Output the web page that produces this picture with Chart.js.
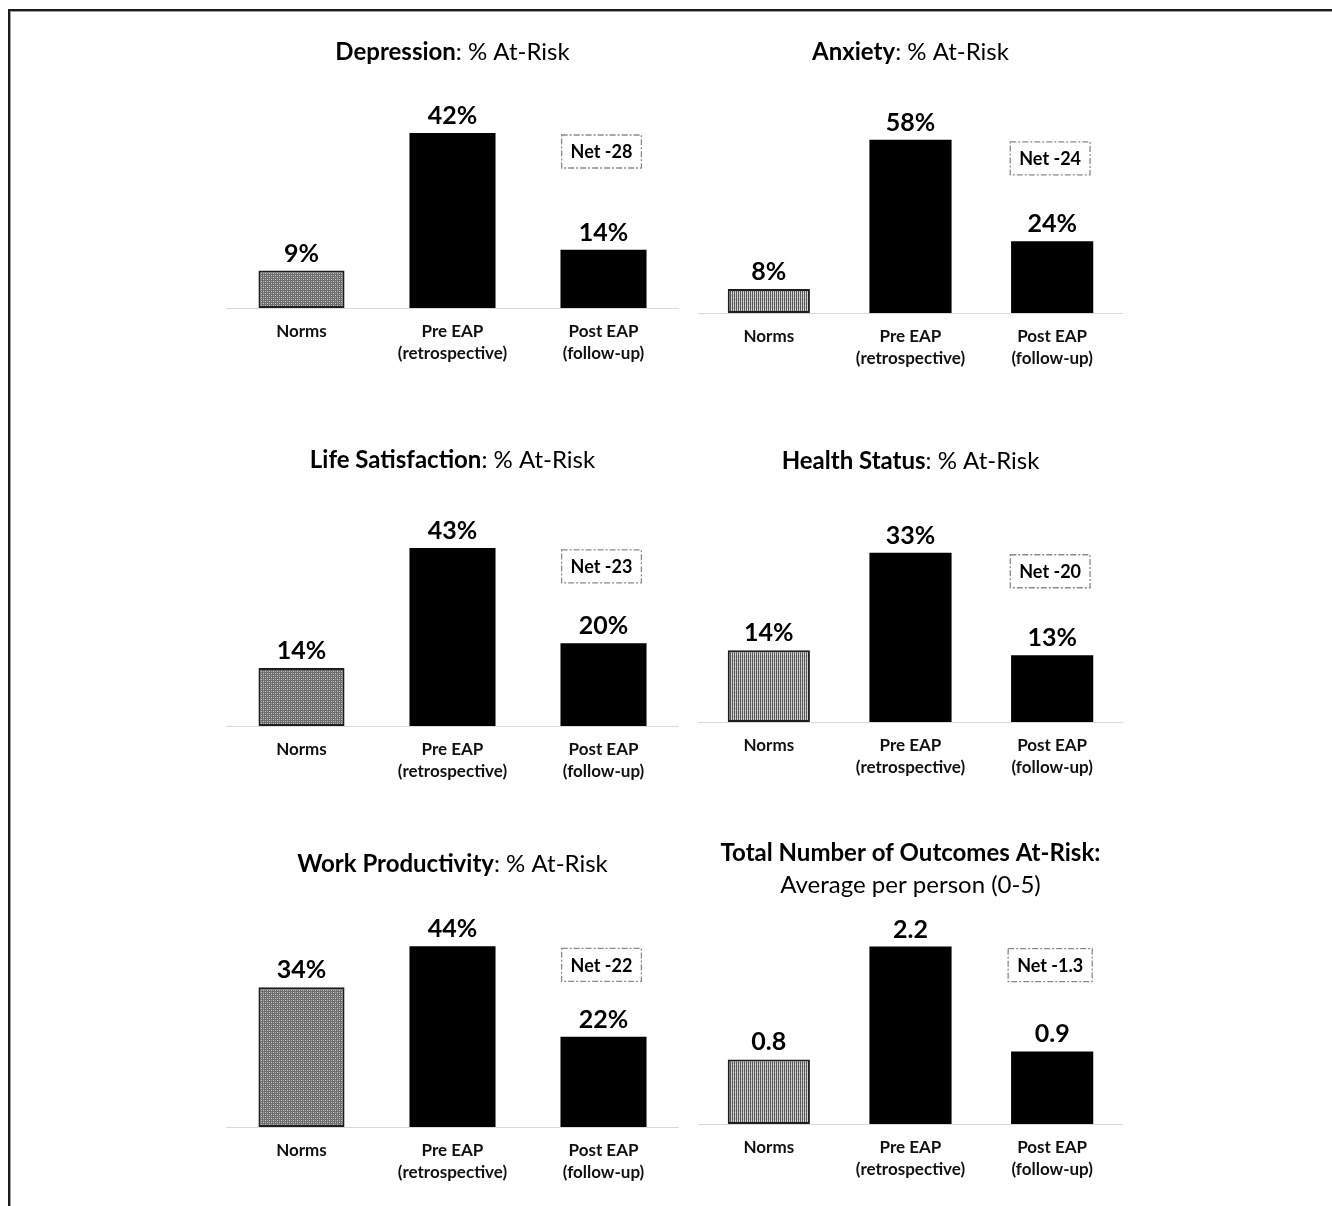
<!DOCTYPE html>
<html><head><meta charset="utf-8">
<script src="https://cdn.jsdelivr.net/npm/chart.js@4.4.1/dist/chart.umd.min.js"></script>
<style>
html,body{margin:0;padding:0;background:#fff;}
body{width:1332px;height:1206px;position:relative;overflow:hidden;}
#frame{position:absolute;left:8px;top:9px;width:1400px;height:1300px;border-left:2px solid #1c1c1c;border-top:2px solid #1c1c1c;}
#frame2{position:absolute;left:10px;top:11px;width:1400px;height:1300px;border-left:1px solid #a0a0a0;border-top:1px solid #a0a0a0;}
canvas{position:absolute;}
</style></head>
<body>
<div id="frame"></div><div id="frame2"></div>
<script>
// ---- data ----
const categories = [["Norms"], ["Pre EAP", "(retrospective)"], ["Post EAP", "(follow-up)"]];
const titlesBold = ["Depression", "Anxiety", "Life Satisfaction", "Health Status", "Work Productivity", "Total Number of Outcomes At-Risk:"];
const titlesRest = [": % At-Risk", ": % At-Risk", ": % At-Risk", ": % At-Risk", ": % At-Risk", ""];
const subtitles = ["", "", "", "", "", "Average per person (0-5)"];
const depression = [9, 42, 14];
const anxiety = [8, 58, 24];
const lifeSatisfaction = [14, 43, 20];
const healthStatus = [14, 33, 13];
const workProductivity = [34, 44, 22];
const totalOutcomes = [0.8, 2.2, 0.9];
const netLabels = ["Net -28", "Net -24", "Net -23", "Net -20", "Net -22", "Net -1.3"];
const valueSuffix = ["%", "%", "%", "%", "%", ""];
const valueDecimals = [0, 0, 0, 0, 0, 1];
const yMax = [48, 67, 48.3, 39, 48.7, 2.48];
const seriesList = [depression, anxiety, lifeSatisfaction, healthStatus, workProductivity, totalOutcomes];

// ---- layout (positions / styles) ----
const panels = [
  {left: 226, width: 453, baseline: 308, titleY: 52, col: 0},
  {left: 698, width: 425, baseline: 313, titleY: 52, col: 1},
  {left: 226, width: 453, baseline: 726, titleY: 460, col: 0},
  {left: 698, width: 425, baseline: 722, titleY: 461, col: 1},
  {left: 226, width: 453, baseline: 1127, titleY: 864, col: 0},
  {left: 698, width: 425, baseline: 1124, titleY: 853, subY: 885, col: 1}
];
const AREA_H = 200, TOP_PAD = 90, AXIS_H = 70;
const FONT = "Lato, 'Open Sans', sans-serif";

function makePattern(col) {
  const c = document.createElement('canvas');
  const ctx = c.getContext('2d');
  if (col === 0) {
    c.width = 4; c.height = 4;
    ctx.fillStyle = '#6e6e6e'; ctx.fillRect(0, 0, 4, 4);
    ctx.fillStyle = '#c9c9c9';
    ctx.fillRect(1, 1, 1, 1); ctx.fillRect(3, 3, 1, 1);
    ctx.fillStyle = '#a4a4a4';
    ctx.fillRect(3, 1, 1, 1); ctx.fillRect(1, 3, 1, 1);
  } else {
    c.width = 2; c.height = 4;
    ctx.fillStyle = '#5a5a5a'; ctx.fillRect(0, 0, 2, 4);
    ctx.fillStyle = '#c4c4c4'; ctx.fillRect(1, 0, 1, 4);
    ctx.fillStyle = '#e0e0e0'; ctx.fillRect(1, 2, 1, 1);
  }
  return c.getContext('2d').createPattern(c, 'repeat');
}

const decoPlugin = {
  id: 'deco',
  afterDatasetsDraw(chart, args, opts) {
    const ctx = chart.ctx;
    const i = opts.index;
    const meta = chart.getDatasetMeta(0);
    const data = chart.data.datasets[0].data;
    ctx.save();
    // value labels
    ctx.fillStyle = '#000';
    ctx.textAlign = 'center';
    ctx.textBaseline = 'alphabetic';
    ctx.font = "bold 25px " + FONT;
    meta.data.forEach((bar, k) => {
      const txt = data[k].toFixed(valueDecimals[i]) + valueSuffix[i];
      ctx.fillText(txt, bar.x, bar.y - 9);
    });
    // net box
    const pre = meta.data[1], post = meta.data[2];
    ctx.font = "bold 18px " + FONT;
    const tw = ctx.measureText(netLabels[i]).width;
    const bw = tw + 18, bh = 33;
    const bx = post.x - bw / 2 - 2, by = pre.y + 2;
    ctx.strokeStyle = '#8a8a8a';
    ctx.lineWidth = 1.3;
    ctx.setLineDash([6, 2, 2, 2]);
    ctx.strokeRect(bx, by, bw, bh);
    ctx.setLineDash([]);
    ctx.textBaseline = 'middle';
    ctx.fillText(netLabels[i], bx + bw / 2, by + bh / 2 + 1);
    // title
    const p = panels[i];
    const ty = p.titleY - (p.baseline - AREA_H - TOP_PAD);
    ctx.font = "bold 24px " + FONT;
    const wB = ctx.measureText(titlesBold[i]).width;
    ctx.font = "24px " + FONT;
    const wR = ctx.measureText(titlesRest[i]).width;
    const x0 = chart.width / 2 - (wB + wR) / 2;
    ctx.textAlign = 'left';
    ctx.font = "bold 24px " + FONT;
    ctx.fillText(titlesBold[i], x0, ty);
    ctx.font = "24px " + FONT;
    ctx.fillText(titlesRest[i], x0 + wB, ty);
    if (subtitles[i]) {
      ctx.textAlign = 'center';
      ctx.fillText(subtitles[i], chart.width / 2, p.subY - (p.baseline - AREA_H - TOP_PAD));
    }
    ctx.restore();
  }
};

panels.forEach((p, i) => {
  const cv = document.createElement('canvas');
  const h = TOP_PAD + AREA_H + AXIS_H;
  cv.width = p.width; cv.height = h;
  cv.style.left = p.left + 'px';
  cv.style.top = (p.baseline - AREA_H - TOP_PAD) + 'px';
  cv.style.width = p.width + 'px'; cv.style.height = h + 'px';
  document.body.appendChild(cv);
  const pat = makePattern(p.col);
  new Chart(cv, {
    type: 'bar',
    data: {
      labels: categories,
      datasets: [{
        data: seriesList[i],
        backgroundColor: [pat, '#000', '#000'],
        borderColor: ['#1e1e1e', '#000', '#000'],
        borderWidth: [2, 0, 0],
        borderSkipped: false,
        categoryPercentage: 1,
        barPercentage: p.col === 0 ? 0.57 : 0.58
      }]
    },
    options: {
      responsive: false,
      animation: false,
      devicePixelRatio: 1,
      layout: {padding: {top: TOP_PAD, left: 0, right: 0, bottom: 0}},
      plugins: {legend: {display: false}, tooltip: {enabled: false}, deco: {index: i}},
      scales: {
        x: {
          grid: {display: false},
          border: {display: true, color: '#d9d9d9', width: 1},
          ticks: {color: '#111', font: {family: FONT, size: 17, weight: 'bold', lineHeight: 1.3}, padding: 4, maxRotation: 0, autoSkip: false},
          afterFit(axis) { axis.height = AXIS_H; }
        },
        y: {display: false, min: 0, max: yMax[i]}
      }
    },
    plugins: [decoPlugin]
  });
});
</script>
</body></html>
